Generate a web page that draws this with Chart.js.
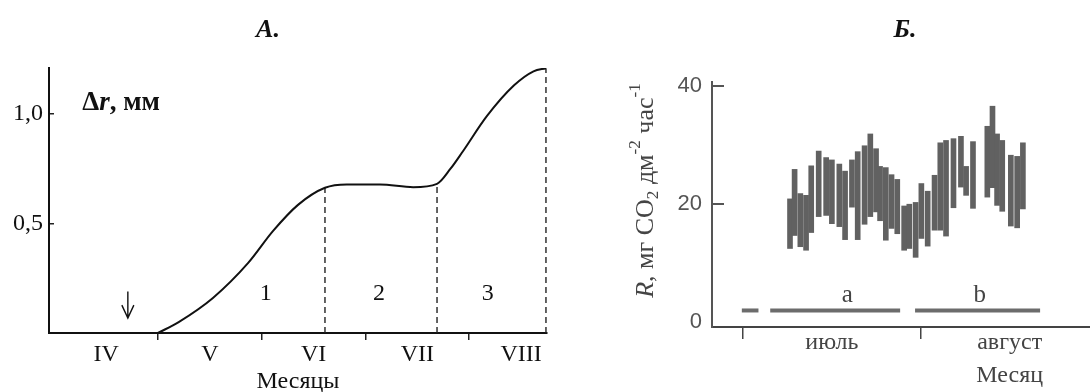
<!DOCTYPE html>
<html>
<head>
<meta charset="utf-8">
<script src="https://cdn.jsdelivr.net/npm/chart.js@4.4.1/dist/chart.umd.min.js"></script>
<style>
  html, body { margin: 0; padding: 0; background: #fff; }
  #wrap { position: relative; width: 1090px; height: 392px; overflow: hidden; background: #fff; }
  #wrap canvas { position: absolute; top: 0; }
  #cA { left: 0; }
  #cB { left: 560px; }
  .ptitle { position: absolute; top: 14px; line-height: 31px; font: italic bold 26px 'Liberation Serif', serif; color: #111; transform: translateX(-50%); }
</style>
</head>
<body>
<div id="wrap">
  <canvas id="cA" width="560" height="392"></canvas>
  <canvas id="cB" width="530" height="392"></canvas>
  <div class="ptitle" style="left:268px">А.</div>
  <div class="ptitle" style="left:905px">Б.</div>
</div>
<script>
// ---------- Panel A: radial increment Δr over the season ----------
const monthNamesA   = ['IV', 'V', 'VI', 'VII', 'VIII'];
const monthCentersA = [0.5, 1.5, 2.5, 3.5, 4.5];   // month index, April starts at 0
const yTicksA       = [0.5, 1.0];
const growthT  = [1.0, 1.2, 1.53, 1.87, 2.11, 2.35, 2.61, 2.82, 3.14, 3.46, 3.69, 3.82, 3.94, 4.17, 4.43, 4.62, 4.74];
const growthDr = [0, 0.05, 0.16, 0.32, 0.466, 0.585, 0.663, 0.678, 0.678, 0.666, 0.681, 0.75, 0.83, 0.99, 1.13, 1.195, 1.209];
const phaseBoundT  = [2.61, 3.69, 4.74];
const phaseBoundDr = [0.663, 0.681, 1.209];
const phaseNames   = ['1', '2', '3'];
const phaseLabelT  = [2.04, 3.13, 4.18];
const phaseLabelDr = [0.18, 0.18, 0.18];
const arrowT = [0.71];
const arrowDr = [0.19, 0.068];          // from, to
const unitLabelPos = [0.27, 1.05];      // t, Δr of the "Δr, мм" caption

// ---------- Panel B: respiration R, July–August ----------
const monthNamesB   = [['июль'], ['август', 'Месяц']];
const monthCentersB = [15.5, 46.5];     // days from 1 July
const yTicksB       = [0, 20, 40];
const dayB = [8.2, 9.0, 10.0, 11.0, 11.9, 13.2, 14.5, 15.5, 16.8, 17.8, 19.0, 20.0, 21.2, 22.2, 23.2, 23.9, 24.9, 25.9, 26.9,
              28.1, 29.0, 30.1, 31.1, 32.2, 33.4, 34.4, 35.4, 36.7, 38.0, 38.9, 40.1, 42.6, 43.5, 44.3, 45.2, 46.7, 47.8, 48.8];
const respHigh = [20.9, 25.9, 21.8, 21.5, 26.5, 29.0, 27.9, 27.5, 26.8, 25.6, 27.5, 28.9, 29.9, 31.9, 29.4, 26.4, 26.2, 25.0, 24.2,
                  19.7, 20.0, 20.3, 23.5, 22.2, 24.9, 30.4, 30.8, 31.1, 31.5, 26.4, 30.6, 33.2, 36.6, 31.9, 30.8, 28.3, 28.1, 30.4];
const respLow  = [12.5, 14.7, 12.8, 12.2, 15.2, 17.9, 18.1, 16.7, 16.2, 14.0, 19.5, 14.0, 16.6, 17.9, 18.7, 17.2, 13.9, 15.9, 15.0,
                  12.2, 12.5, 11.0, 14.2, 12.9, 15.6, 15.6, 14.6, 19.4, 22.9, 21.5, 19.3, 21.2, 22.8, 19.8, 18.8, 16.3, 16.0, 19.2];
const periodStart = [-0.2, 4.75, 30.0];
const periodEnd   = [2.7, 27.4, 51.8];
const periodLevel = [2, 2, 2];
const periodNames = ['a', 'b'];
const periodLabelDay = [18.2, 41.3];
const periodLabelR   = [4.6, 4.6];

const SERIF = "'Liberation Serif', 'Times New Roman', serif";
const SANS  = "'Liberation Sans', Arial, sans-serif";

// draws a run of differently styled pieces (italic, sub/superscript) as one line
function drawRich(ctx, parts, x, y, size, color, align) {
  const pieces = parts.map(p => {
    const s = p.shift ? size * 0.66 : size;
    const font = `${p.style || 'normal'} ${p.weight || 'normal'} ${s}px ${SERIF}`;
    ctx.font = font;
    return { t: p.t, font, w: ctx.measureText(p.t).width, dy: p.shift === 'sub' ? size * 0.28 : p.shift === 'sup' ? -size * 0.4 : 0 };
  });
  const total = pieces.reduce((a, p) => a + p.w, 0);
  let cx = align === 'center' ? x - total / 2 : x;
  ctx.fillStyle = color;
  ctx.textBaseline = 'middle';
  ctx.textAlign = 'left';
  pieces.forEach(p => { ctx.font = p.font; ctx.fillText(p.t, cx, y + p.dy); cx += p.w; });
}

// text labels and the arrow of panel A, placed in data units
const annotateA = {
  id: 'annotateA',
  afterDatasetsDraw(chart) {
    const { ctx, scales: { x, y } } = chart;
    ctx.save();
    ctx.fillStyle = '#111';
    ctx.font = `24px ${SERIF}`;
    ctx.textAlign = 'center';
    ctx.textBaseline = 'middle';
    phaseNames.forEach((n, i) => ctx.fillText(n, x.getPixelForValue(phaseLabelT[i]), y.getPixelForValue(phaseLabelDr[i])));
    drawRich(ctx, [{ t: 'Δ', weight: 'bold' }, { t: 'r', weight: 'bold', style: 'italic' }, { t: ', мм', weight: 'bold' }],
      x.getPixelForValue(unitLabelPos[0]), y.getPixelForValue(unitLabelPos[1]), 27, '#111', 'left');
    // arrow marking the start of the season
    const ax = x.getPixelForValue(arrowT[0]);
    const y0 = y.getPixelForValue(arrowDr[0]);
    const y1 = y.getPixelForValue(arrowDr[1]);
    ctx.strokeStyle = '#111';
    ctx.lineWidth = 1.4;
    ctx.beginPath();
    ctx.moveTo(ax, y0); ctx.lineTo(ax, y1);
    ctx.moveTo(ax - 6, y1 - 13); ctx.lineTo(ax, y1); ctx.lineTo(ax + 6, y1 - 13);
    ctx.stroke();
    ctx.restore();
  }
};

const growthData = growthT.map((t, i) => ({ x: t, y: growthDr[i] }));
const boundSets = phaseBoundT.map((t, i) => ({
  data: [{ x: t, y: 0 }, { x: t, y: phaseBoundDr[i] }],
  borderColor: '#222', borderWidth: 1.4, borderDash: [6, 4], pointRadius: 0, order: 2
}));

new Chart(document.getElementById('cA'), {
  type: 'line',
  data: {
    datasets: [
      { data: growthData, borderColor: '#111', borderWidth: 2, pointRadius: 0, cubicInterpolationMode: 'monotone', order: 1 },
      ...boundSets
    ]
  },
  options: {
    responsive: false, animation: false, devicePixelRatio: 1,
    layout: { padding: { left: 0, top: 68, right: 13, bottom: 0 } },
    plugins: { legend: { display: false }, tooltip: { enabled: false } },
    scales: {
      x: {
        type: 'linear', min: -0.05, max: 4.75,
        afterFit: s => { s.height = 59; },
        afterBuildTicks: s => { s.ticks = monthCentersA.map(v => ({ value: v })); },
        ticks: { callback: (v, i) => monthNamesA[i], autoSkip: false, maxRotation: 0, padding: 0,
                 font: { family: SERIF, size: 24 }, color: '#111' },
        grid: { offset: true, drawOnChartArea: false, drawTicks: true, tickLength: 7, lineWidth: 1.5,
                color: c => c.index === 0 ? 'rgba(0,0,0,0)' : '#222' },
        border: { color: '#111', width: 2 },
        title: { display: true, text: 'Месяцы', font: { family: SERIF, size: 24 }, color: '#111', padding: { top: 0, bottom: -4 } }
      },
      y: {
        type: 'linear', min: 0, max: 1.21,
        afterFit: s => { s.width = 49; },
        afterBuildTicks: s => { s.ticks = yTicksA.map(v => ({ value: v })); },
        ticks: { callback: v => v.toFixed(1).replace('.', ','), padding: 11,
                 font: { family: SERIF, size: 24 }, color: '#111' },
        grid: { drawOnChartArea: false, drawTicks: true, tickLength: -5, lineWidth: 1.5, color: '#222' },
        border: { color: '#111', width: 2 }
      }
    }
  },
  plugins: [annotateA]
});

// rotated axis caption and period letters of panel B
const annotateB = {
  id: 'annotateB',
  afterDatasetsDraw(chart) {
    const { ctx, chartArea, scales: { x, y } } = chart;
    ctx.save();
    ctx.font = `25px ${SERIF}`;
    ctx.fillStyle = '#444';
    ctx.textAlign = 'center';
    ctx.textBaseline = 'middle';
    periodNames.forEach((n, i) => ctx.fillText(n, x.getPixelForValue(periodLabelDay[i]), y.getPixelForValue(periodLabelR[i])));
    ctx.translate(y.left + 86, (chartArea.top + chartArea.bottom) / 2 - 14);
    ctx.rotate(-Math.PI / 2);
    drawRich(ctx, [
      { t: 'R', style: 'italic' }, { t: ', мг CO' }, { t: '2', shift: 'sub' }, { t: ' дм' },
      { t: '-2', shift: 'sup' }, { t: ' час' }, { t: '-1', shift: 'sup' }
    ], 0, 0, 26, '#444', 'center');
    ctx.restore();
  }
};

const respBars = dayB.map((d, i) => ({ x: d, y: [respLow[i], respHigh[i]] }));
const periodSets = periodStart.map((s, i) => ({
  type: 'line',
  data: [{ x: s, y: periodLevel[i] }, { x: periodEnd[i], y: periodLevel[i] }],
  borderColor: '#6c6c6c', borderWidth: 4, pointRadius: 0, borderCapStyle: 'butt'
}));

new Chart(document.getElementById('cB'), {
  type: 'bar',
  data: {
    datasets: [
      { type: 'bar', data: respBars, backgroundColor: '#616161', borderWidth: 0, barThickness: 5 },
      ...periodSets
    ]
  },
  options: {
    responsive: false, animation: false, devicePixelRatio: 1,
    layout: { padding: { left: 0, top: 82, right: 0, bottom: 0 } },
    plugins: { legend: { display: false }, tooltip: { enabled: false } },
    scales: {
      x: {
        type: 'linear', min: -5.4, max: 60.5, offset: false,
        afterFit: s => { s.height = 65; },
        afterBuildTicks: s => { s.ticks = monthCentersB.map(v => ({ value: v })); },
        ticks: { callback: (v, i) => monthNamesB[i], autoSkip: false, maxRotation: 0, padding: -12,
                 font: { family: SERIF, size: 24, lineHeight: 1.35 }, color: '#444' },
        grid: { offset: true, drawOnChartArea: false, drawTicks: true, tickLength: 12, lineWidth: 1.5, color: '#444' },
        border: { color: '#444', width: 2 }
      },
      y: {
        type: 'linear', min: -0.8, max: 40.7,
        afterFit: s => { s.width = 152; },
        afterBuildTicks: s => { s.ticks = yTicksB.map(v => ({ value: v })); },
        ticks: { padding: 22, font: { family: SANS, size: 22 }, color: '#555' },
        grid: { drawOnChartArea: false, drawTicks: true, tickLength: -12, lineWidth: 2,
                color: c => c.tick && c.tick.value === 0 ? 'rgba(0,0,0,0)' : '#555' },
        border: { color: '#555', width: 2 }
      }
    }
  },
  plugins: [annotateB]
});
</script>
</body>
</html>
